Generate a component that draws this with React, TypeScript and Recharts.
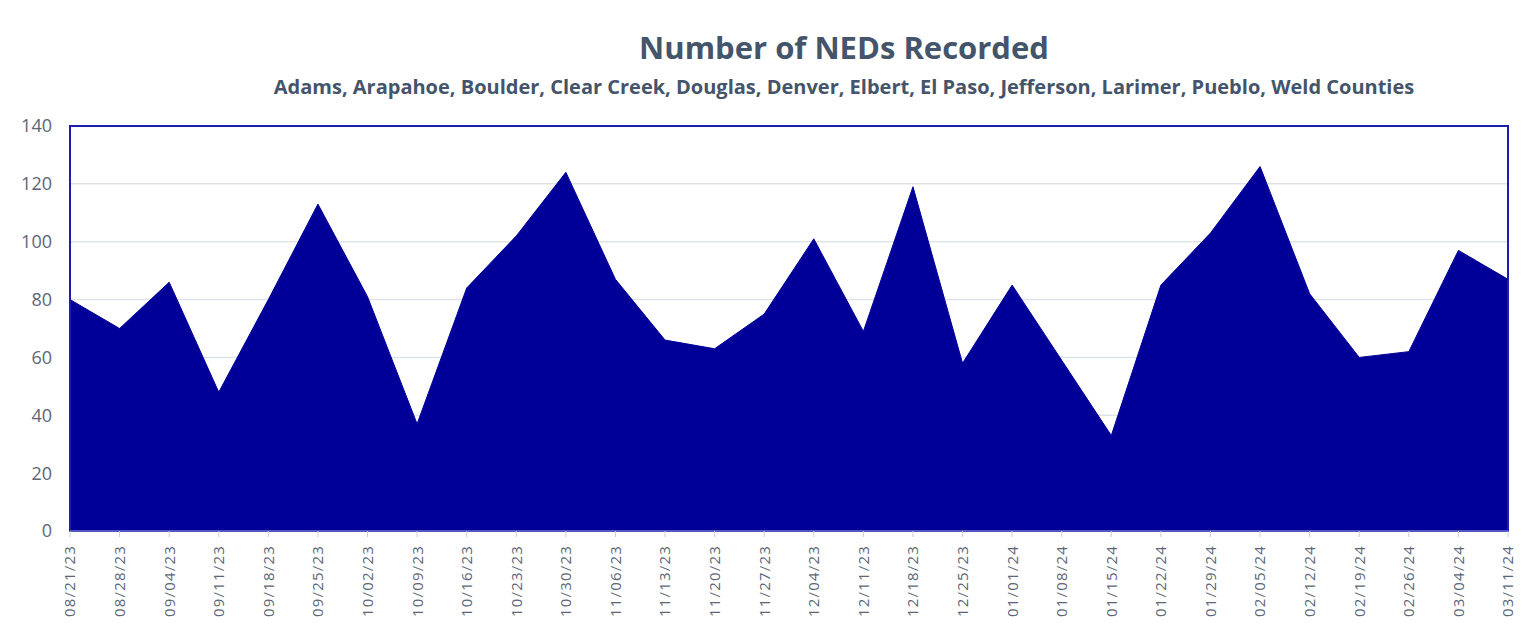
import React from 'react';
import { AreaChart, Area, XAxis, YAxis, CartesianGrid, ReferenceArea } from 'recharts';

// weekly counts
const weeks = [
  '08/21/23', '08/28/23', '09/04/23', '09/11/23', '09/18/23', '09/25/23', '10/02/23', '10/09/23',
  '10/16/23', '10/23/23', '10/30/23', '11/06/23', '11/13/23', '11/20/23', '11/27/23', '12/04/23',
  '12/11/23', '12/18/23', '12/25/23', '01/01/24', '01/08/24', '01/15/24', '01/22/24', '01/29/24',
  '02/05/24', '02/12/24', '02/19/24', '02/26/24', '03/04/24', '03/11/24',
];
const neds = [
  80, 70, 86, 48, 80, 113, 81, 37, 84, 102, 124, 87, 66, 63, 75, 101,
  69, 119, 58, 85, 59, 33, 85, 103, 126, 82, 60, 62, 97, 87,
];
const yTicks = [0, 20, 40, 60, 80, 100, 120, 140];

const TITLE = 'Number of NEDs Recorded';
const SUBTITLE =
  'Adams, Arapahoe, Boulder, Clear Creek, Douglas, Denver, Elbert, El Paso, Jefferson, Larimer, Pueblo, Weld Counties';

const FONT = '"Open Sans", sans-serif';
const FILL = '#000099';
const TEXT = '#44546A';
const TICK = '#5b6677';

const chartData = weeks.map((week, i) => ({ week, neds: neds[i] }));

// rotated date labels, reading bottom to top
const DateTick = (props: any) => {
  const { x, y, payload } = props;
  return (
    <g transform={`translate(${x},${y})`}>
      <text
        x={-6}
        y={0}
        dy="0.36em"
        transform="rotate(-90)"
        textAnchor="end"
        fill={TICK}
        fontSize={15}
        letterSpacing={1.2}
        fontFamily={FONT}
      >
        {payload.value}
      </text>
    </g>
  );
};

const App: React.FC = () => {
  return (
    <div style={{ position: 'relative', width: 1534, height: 635, margin: -8, background: '#fff' }}>
      <div
        style={{
          position: 'absolute',
          left: 4,
          top: 5,
          width: 1525,
          height: 627,
          border: '1px solid #dde1e6',
          pointerEvents: 'none',
        }}
      />
      <div
        style={{
          position: 'absolute',
          left: 844,
          top: 32,
          transform: 'translateX(-50%)',
          whiteSpace: 'nowrap',
          fontFamily: FONT,
          fontWeight: 700,
          fontSize: 31,
          lineHeight: 1,
          color: TEXT,
        }}
      >
        {TITLE}
      </div>
      <div
        style={{
          position: 'absolute',
          left: 844,
          top: 77,
          transform: 'translateX(-50%)',
          whiteSpace: 'nowrap',
          fontFamily: FONT,
          fontWeight: 700,
          fontSize: 20,
          lineHeight: 1,
          color: TEXT,
        }}
      >
        {SUBTITLE}
      </div>
      <AreaChart
        width={1534}
        height={635}
        data={chartData}
        margin={{ top: 126, right: 26, bottom: 14, left: 10 }}
        style={{ position: 'absolute', left: 0, top: 0 }}
      >
        <CartesianGrid vertical={false} stroke="#dfe3e8" strokeWidth={1.5} />
        <XAxis
          dataKey="week"
          interval={0}
          height={90}
          tick={<DateTick />}
          tickSize={6}
          tickLine={{ stroke: '#c9cdd4' }}
          axisLine={{ stroke: '#8e93cf' }}
        />
        <YAxis
          domain={[0, 140]}
          ticks={yTicks}
          width={60}
          axisLine={false}
          tickLine={false}
          tickSize={0}
          tickMargin={18}
          tick={{ fill: TICK, fontSize: 18, fontFamily: FONT }}
        />
        <Area
          type="linear"
          dataKey="neds"
          fill={FILL}
          fillOpacity={1}
          stroke={FILL}
          strokeWidth={1}
          isAnimationActive={false}
        />
        <ReferenceArea
          x1={weeks[0]}
          x2={weeks[weeks.length - 1]}
          y1={0}
          y2={140}
          fill="none"
          fillOpacity={0}
          stroke="#1c1cb4"
          strokeWidth={2}
        />
      </AreaChart>
    </div>
  );
};

export default App;
